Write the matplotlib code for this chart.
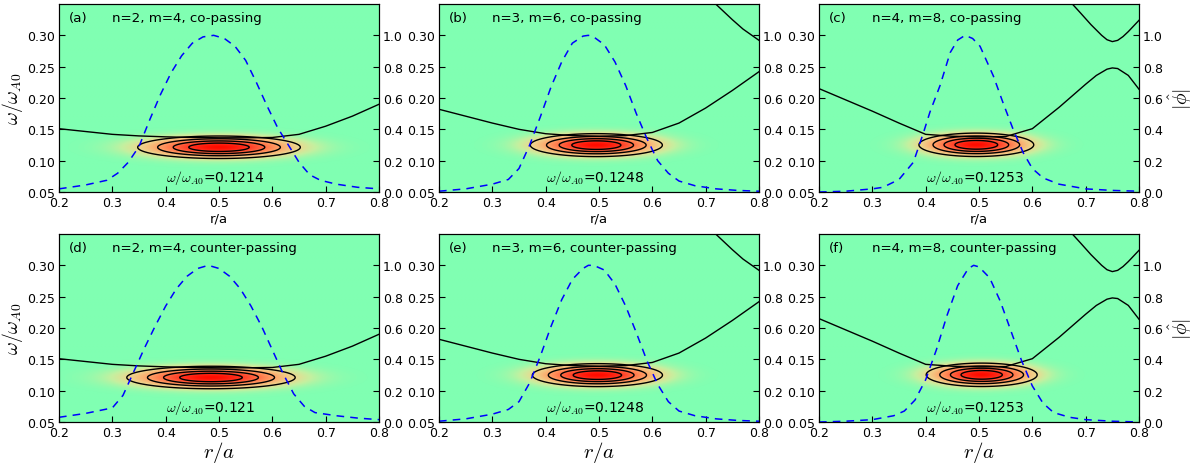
import matplotlib
matplotlib.use('Agg')
import matplotlib.pyplot as plt
import numpy as np
from matplotlib.colors import LinearSegmentedColormap

plt.rcParams['mathtext.fontset'] = 'cm'
plt.rcParams['font.family'] = 'DejaVu Sans'

# panel labels
letters = ['(a)', '(b)', '(c)', '(d)', '(e)', '(f)']
titles = ['n=2, m=4, co-passing', 'n=3, m=6, co-passing', 'n=4, m=8, co-passing',
          'n=2, m=4, counter-passing', 'n=3, m=6, counter-passing', 'n=4, m=8, counter-passing']
freq_text = ['0.1214', '0.1248', '0.1253', '0.121', '0.1248', '0.1253']

# mode structure |phi| (dashed, right axis)
r_a = [0.20, 0.25, 0.29, 0.31, 0.33, 0.35, 0.37, 0.39, 0.41, 0.43, 0.45, 0.47, 0.49,
       0.51, 0.53, 0.55, 0.57, 0.59, 0.61, 0.63, 0.65, 0.67, 0.69, 0.72, 0.76, 0.80]
phi_a = [0.02, 0.045, 0.075, 0.12, 0.19, 0.29, 0.46, 0.62, 0.76, 0.87, 0.95, 0.99, 1.0,
         0.98, 0.93, 0.84, 0.70, 0.55, 0.41, 0.30, 0.19, 0.11, 0.075, 0.05, 0.03, 0.02]

r_b = [0.20, 0.25, 0.30, 0.33, 0.35, 0.37, 0.39, 0.41, 0.43, 0.45, 0.47, 0.48, 0.49,
       0.51, 0.53, 0.55, 0.57, 0.59, 0.61, 0.63, 0.65, 0.68, 0.72, 0.76, 0.80]
phi_b = [0.005, 0.02, 0.05, 0.08, 0.15, 0.30, 0.48, 0.67, 0.83, 0.95, 0.995, 1.0, 0.99,
         0.94, 0.83, 0.68, 0.50, 0.34, 0.20, 0.12, 0.07, 0.04, 0.02, 0.01, 0.005]

r_c = [0.20, 0.25, 0.30, 0.32, 0.35, 0.377, 0.396, 0.408, 0.427, 0.446, 0.46, 0.474,
       0.488, 0.502, 0.527, 0.545, 0.564, 0.583, 0.60, 0.62, 0.65, 0.70, 0.75, 0.80]
phi_c = [0.0, 0.005, 0.02, 0.03, 0.08, 0.19, 0.38, 0.51, 0.68, 0.89, 0.97, 1.0,
         0.98, 0.93, 0.74, 0.57, 0.40, 0.25, 0.15, 0.09, 0.05, 0.02, 0.01, 0.005]

r_d = [0.20, 0.25, 0.30, 0.32, 0.34, 0.36, 0.38, 0.40, 0.42, 0.44, 0.46, 0.48, 0.50,
       0.52, 0.54, 0.56, 0.58, 0.60, 0.62, 0.64, 0.66, 0.68, 0.72, 0.76, 0.80]
phi_d = [0.03, 0.055, 0.09, 0.17, 0.32, 0.47, 0.61, 0.74, 0.85, 0.93, 0.98, 1.0, 0.98,
         0.93, 0.85, 0.74, 0.61, 0.46, 0.31, 0.18, 0.10, 0.06, 0.04, 0.025, 0.015]

r_e = [0.20, 0.25, 0.30, 0.33, 0.35, 0.37, 0.39, 0.41, 0.43, 0.45, 0.47, 0.48, 0.49,
       0.51, 0.53, 0.55, 0.57, 0.59, 0.61, 0.63, 0.65, 0.68, 0.72, 0.76, 0.80]
phi_e = [0.005, 0.02, 0.05, 0.08, 0.13, 0.25, 0.42, 0.61, 0.78, 0.91, 0.98, 1.0, 1.0,
         0.97, 0.88, 0.74, 0.57, 0.39, 0.24, 0.13, 0.07, 0.04, 0.02, 0.01, 0.005]

r_f = [0.20, 0.25, 0.30, 0.34, 0.36, 0.38, 0.40, 0.42, 0.44, 0.46, 0.48, 0.49, 0.50,
       0.52, 0.54, 0.56, 0.58, 0.60, 0.62, 0.64, 0.67, 0.70, 0.75, 0.80]
phi_f = [0.0, 0.005, 0.015, 0.04, 0.07, 0.14, 0.27, 0.46, 0.68, 0.87, 0.98, 1.0, 0.99,
         0.92, 0.77, 0.58, 0.39, 0.23, 0.12, 0.06, 0.03, 0.015, 0.005, 0.0]

# shear Alfven continuum (solid black)
r_cont = [0.20, 0.25, 0.30, 0.35, 0.40, 0.45, 0.50, 0.55, 0.60, 0.65, 0.70, 0.75, 0.80]
w_cont_n2 = [0.151, 0.1465, 0.142, 0.1395, 0.138, 0.137, 0.1365, 0.1365, 0.137, 0.142, 0.155, 0.171, 0.190]
w_cont_n3 = [0.182, 0.171, 0.160, 0.150, 0.143, 0.140, 0.139, 0.140, 0.145, 0.160, 0.184, 0.212, 0.242]
r_cont_n3_up = [0.715, 0.73, 0.75, 0.77, 0.80]
w_cont_n3_up = [0.353, 0.341, 0.325, 0.310, 0.292]
r_cont_n4 = [0.20, 0.25, 0.30, 0.35, 0.40, 0.45, 0.50, 0.55, 0.60, 0.65, 0.70, 0.72, 0.74,
             0.75, 0.76, 0.78, 0.80]
w_cont_n4 = [0.215, 0.197, 0.179, 0.160, 0.142, 0.139, 0.138, 0.1385, 0.151, 0.185, 0.222, 0.236,
             0.246, 0.248, 0.247, 0.236, 0.214]
r_cont_n4_up = [0.675, 0.69, 0.71, 0.73, 0.74, 0.75, 0.76, 0.77, 0.78, 0.80]
w_cont_n4_up = [0.350, 0.336, 0.317, 0.300, 0.293, 0.290, 0.292, 0.298, 0.306, 0.324]

# spectrum peak: position and widths
mode_r0 = [0.500, 0.495, 0.495, 0.485, 0.497, 0.505]
mode_w0 = [0.1214, 0.1248, 0.1253, 0.121, 0.1248, 0.1253]
mode_sr = [0.085, 0.069, 0.060, 0.088, 0.068, 0.058]
mode_sw = [0.0100, 0.0102, 0.0104, 0.0100, 0.0102, 0.0104]

phis = [(r_a, phi_a), (r_b, phi_b), (r_c, phi_c), (r_d, phi_d), (r_e, phi_e), (r_f, phi_f)]
conts = [[(r_cont, w_cont_n2)],
         [(r_cont, w_cont_n3), (r_cont_n3_up, w_cont_n3_up)],
         [(r_cont_n4, w_cont_n4), (r_cont_n4_up, w_cont_n4_up)]]

cmap = LinearSegmentedColormap.from_list('spec', [
    (0.0, '#80ffb2'), (0.1, '#c4f0a0'), (0.2, '#ecd890'), (0.4, '#ffa468'),
    (0.6, '#ff7046'), (0.8, '#ff3a24'), (1.0, '#ff0c00')])

fig = plt.figure(figsize=(11.98, 4.64), dpi=100)
lefts = [59 / 1198, 439 / 1198, 819 / 1198]
bottoms = [271 / 464, 41 / 464]
w, h = 320 / 1198, 188 / 464

rr = np.linspace(0.2, 0.8, 400)
ww = np.linspace(0.05, 0.35, 300)
R, W = np.meshgrid(rr, ww)

for i in range(6):
    row, col = divmod(i, 3)
    ax = fig.add_axes([lefts[col], bottoms[row], w, h])
    Z = np.exp(-(R - mode_r0[i]) ** 2 / (2 * mode_sr[i] ** 2)
               - (W - mode_w0[i]) ** 2 / (2 * mode_sw[i] ** 2))
    ax.imshow(Z, extent=[0.2, 0.8, 0.05, 0.35], origin='lower', aspect='auto',
              cmap=cmap, vmin=0, vmax=1, interpolation='bilinear')
    ax.contour(R, W, Z, levels=[0.2, 0.4, 0.6, 0.8], colors='k', linewidths=1.0)
    for cr, cw in conts[col]:
        ax.plot(cr, cw, color='k', lw=1.0)
    ax.set_xlim(0.2, 0.8)
    ax.set_ylim(0.05, 0.35)
    ax.set_xticks([0.2, 0.3, 0.4, 0.5, 0.6, 0.7, 0.8])
    ax.set_yticks([0.05, 0.10, 0.15, 0.20, 0.25, 0.30])
    ax.set_yticklabels(['0.05', '0.10', '0.15', '0.20', '0.25', '0.30'])
    ax.tick_params(direction='in', length=4, labelsize=9, pad=3)

    ax.text(0.031, 0.93, letters[i], transform=ax.transAxes, fontsize=9.6, va='center')
    ax.text(0.165, 0.93, titles[i], transform=ax.transAxes, fontsize=9.6, va='center')
    ax.text(0.40, 0.074, r'$\omega/\omega_{A0}$' + '=' + freq_text[i], fontsize=10,
            va='center', ha='left')

    if row == 0:
        ax.set_xlabel('r/a', fontsize=9.5, labelpad=2)
    else:
        ax.set_xlabel(r'$r/a$', fontsize=15, labelpad=0)
    if col == 0:
        ax.set_ylabel(r'$\omega/\omega_{A0}$', fontsize=14, labelpad=1)

    ax2 = ax.twinx()
    pr, pv = phis[i]
    ax2.plot(pr, pv, color='#0000ff', lw=1.1, ls=(0, (5, 4)))
    ax2.set_ylim(0, 1.2)
    ax2.set_yticks([0.0, 0.2, 0.4, 0.6, 0.8, 1.0])
    ax2.tick_params(direction='in', length=4, labelsize=9, pad=3)
    if col == 2:
        ax2.set_ylabel(r'$|\hat{\phi}|$', fontsize=14, labelpad=2)

fig.savefig('out.png', dpi=100)
